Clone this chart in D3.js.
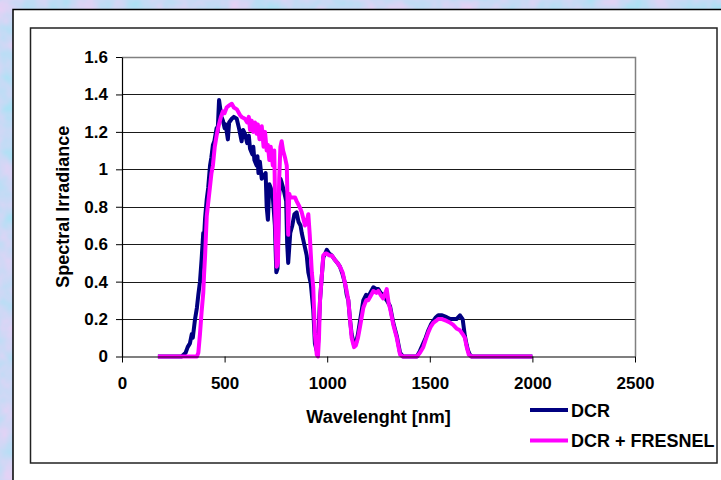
<!DOCTYPE html>
<html>
  <head>
    <meta charset="UTF-8">
    <title>spectral irradiance</title>
    <style>
      body { margin: 0; }
      svg text { font-family: "Liberation Sans", Arial, sans-serif; font-weight: bold; fill: #000; }
      .axis text { font-size: 17px; }
      .axis path, .axis line { stroke: #000; }
      .grid line { stroke: #1a1a1a; }
    </style>
    <script src="https://d3js.org/d3.v7.min.js"></script>
  </head>
  <body>
    <div class="graph1"></div>
    <script>
      // series: wavelength [nm] -> irradiance
      var dcrWavelength = [175, 250, 290, 300, 310, 320, 331, 340, 345, 356, 365, 372, 380, 388, 396, 400, 405, 413, 420, 429,
        435, 443, 450, 461, 466, 473, 478, 485, 492, 500, 505, 516, 522, 535, 545, 559, 570, 583, 590, 599,
        610, 618, 624, 635, 640, 645, 656, 660, 665, 672, 681, 690, 700, 705, 711, 718, 725, 735, 745, 752, 758, 765, 772,
        778, 790, 800, 805, 810, 815, 820, 830, 840, 851, 860, 870, 876, 882, 892, 900, 908, 920, 932, 940,
        949, 955, 965, 975, 981, 990, 998, 1010, 1022, 1035, 1050, 1062, 1075, 1087, 1095, 1103, 1111, 1119, 1131, 1140,
        1150, 1160, 1176, 1190, 1200, 1215, 1225, 1240, 1249, 1260, 1273, 1290, 1306, 1322, 1339, 1355, 1369, 1437, 1452, 1468,
        1480, 1493, 1505, 1517, 1530, 1541, 1560, 1582, 1600, 1613, 1630, 1647, 1660, 1671, 1680, 1687, 1695, 1704, 2000];
      var dcrIrradiance = [0, 0, 0, 0.01, 0.02, 0.05, 0.07, 0.12, 0.10, 0.20, 0.26, 0.33, 0.40, 0.52, 0.66, 0.64, 0.74, 0.84, 0.90, 1.02,
        1.06, 1.13, 1.15, 1.22, 1.20, 1.37, 1.33, 1.28, 1.26, 1.22, 1.24, 1.16, 1.25, 1.27, 1.28, 1.27, 1.22, 1.15, 1.21, 1.19,
        1.14, 1.18, 1.11, 1.08, 1.12, 1.05, 1.02, 1.07, 0.98, 1.04, 0.95, 0.96, 0.98, 0.80, 0.73, 0.92, 0.90, 0.85, 0.70, 0.45, 0.47, 0.85, 0.95,
        0.93, 0.88, 0.83, 0.60, 0.50, 0.58, 0.66, 0.70, 0.76, 0.77, 0.72, 0.70, 0.66, 0.63, 0.58, 0.54, 0.45, 0.39, 0.25, 0.07,
        0.03, 0.06, 0.30, 0.45, 0.53, 0.55, 0.57, 0.55, 0.54, 0.52, 0.50, 0.48, 0.44, 0.39, 0.33, 0.30, 0.20, 0.12, 0.06, 0.07,
        0.12, 0.19, 0.30, 0.33, 0.32, 0.35, 0.37, 0.36, 0.36, 0.34, 0.33, 0.30, 0.27, 0.18, 0.11, 0.02, 0, 0, 0.03, 0.07,
        0.10, 0.14, 0.17, 0.19, 0.21, 0.22, 0.22, 0.21, 0.20, 0.20, 0.20, 0.22, 0.20, 0.11, 0.06, 0.03, 0.01, 0, 0];

      var fresnelWavelength = [175, 300, 365, 372, 380, 388, 396, 400, 405, 413, 420, 429, 436, 443, 452, 461, 468, 475, 482, 492,
        500, 510, 520, 535, 545, 560, 575, 583, 599, 610, 618, 624, 632, 640, 648, 656, 662, 670, 681, 690, 697, 705, 711, 718,
        725, 735, 742, 748, 754, 760, 766, 772, 778, 785, 795, 803, 810, 815, 820, 835, 843, 851, 865, 876,
        892, 900, 908, 915, 925, 932, 940, 949, 955, 960, 965, 975, 981, 990, 998, 1010, 1022, 1035, 1050, 1062,
        1075, 1087, 1095, 1103, 1111, 1119, 1131, 1140, 1150, 1160, 1176, 1190, 1200, 1215, 1225, 1240, 1249, 1260, 1273, 1290,
        1300, 1306, 1322, 1339, 1355, 1369, 1437, 1452, 1468, 1480, 1493, 1505, 1517, 1530, 1541, 1560, 1582, 1600, 1613, 1630,
        1647, 1660, 1671, 1680, 1690, 1704, 2000];
      var fresnelIrradiance = [0, 0, 0, 0.02, 0.12, 0.24, 0.34, 0.44, 0.54, 0.75, 0.82, 0.91, 0.98, 1.02, 1.12, 1.18, 1.22, 1.25, 1.28, 1.31,
        1.30, 1.33, 1.34, 1.35, 1.33, 1.32, 1.29, 1.28, 1.27, 1.25, 1.28, 1.21, 1.26, 1.20, 1.25, 1.19, 1.24, 1.16, 1.23, 1.12, 1.20, 1.10, 1.13, 1.05,
        1.12, 1.02, 1.10, 0.70, 0.48, 0.50, 0.95, 1.12, 1.15, 1.10, 1.06, 1.02, 0.65, 0.87, 0.85, 0.85, 0.85, 0.83, 0.80, 0.77,
        0.70, 0.72, 0.76, 0.65, 0.45, 0.37, 0.12, 0.01, 0, 0.10, 0.30, 0.45, 0.54, 0.55, 0.55, 0.54, 0.54, 0.52, 0.50, 0.48,
        0.45, 0.39, 0.35, 0.30, 0.20, 0.10, 0.05, 0.06, 0.10, 0.16, 0.26, 0.30, 0.30, 0.33, 0.35, 0.34, 0.35, 0.33, 0.31, 0.36,
        0.28, 0.26, 0.17, 0.10, 0.01, 0, 0, 0.02, 0.05, 0.09, 0.13, 0.16, 0.18, 0.19, 0.20, 0.20, 0.19, 0.18, 0.17, 0.15,
        0.14, 0.12, 0.10, 0.05, 0.01, 0, 0];

      var xTicks = [0, 500, 1000, 1500, 2000, 2500];
      var yTicks = [0, 0.2, 0.4, 0.6, 0.8, 1, 1.2, 1.4, 1.6];
      var yTickLabels = ["0", "0.2", "0.4", "0.6", "0.8", "1", "1.2", "1.4", "1.6"];
      var seriesNames = ["DCR", "DCR + FRESNEL"];
      var seriesColors = ["#000080", "#ff00ff"];

      var width = 721, height = 480;
      var plot = {left: 122, right: 635, top: 57, bottom: 356.5};

      var svg = d3.select(".graph1").append("svg")
        .attr("width", width)
        .attr("height", height);

      // mottled slide background
      var defs = svg.append("defs");
      var filt = defs.append("filter").attr("id", "mottle")
        .attr("color-interpolation-filters", "sRGB")
        .attr("x", 0).attr("y", 0).attr("width", "100%").attr("height", "100%");
      filt.append("feTurbulence")
        .attr("type", "fractalNoise")
        .attr("baseFrequency", 0.04)
        .attr("numOctaves", 3)
        .attr("seed", 4);
      filt.append("feColorMatrix")
        .attr("type", "matrix")
        .attr("values", "0.35 0 0 0 0.62  -0.1 0 0 0 0.9  0 0 0 0 0.96  0 0 0 0 1");

      svg.append("rect")
        .attr("width", width).attr("height", height)
        .attr("fill", "#cfdcf3");
      svg.append("rect")
        .attr("width", width).attr("height", height)
        .attr("filter", "url(#mottle)");

      // white panels
      svg.append("rect")
        .attr("x", 13).attr("y", 9.5)
        .attr("width", 720).attr("height", 480)
        .attr("fill", "#fff").attr("stroke", "#000").attr("stroke-width", 1.5);
      svg.append("rect")
        .attr("x", 30.5).attr("y", 28)
        .attr("width", 686.5).attr("height", 435)
        .attr("fill", "#fff").attr("stroke", "#222").attr("stroke-width", 1.5);

      var xScale = d3.scaleLinear().domain([0, 2500]).range([plot.left, plot.right]);
      var yScale = d3.scaleLinear().domain([0, 1.6]).range([plot.bottom, plot.top]);

      // gridlines
      svg.append("g")
        .attr("class", "grid")
        .selectAll("line")
        .data(yTicks.slice(1, -1))
        .enter().append("line")
          .attr("x1", plot.left).attr("x2", plot.right)
          .attr("y1", function(d) { return Math.round(yScale(d)) + 0.5; })
          .attr("y2", function(d) { return Math.round(yScale(d)) + 0.5; });

      // plot area frame (top/right grey)
      svg.append("path")
        .attr("d", "M" + plot.left + "," + (plot.top + 0.5) + "H" + (plot.right + 0.5) + "V" + plot.bottom)
        .attr("fill", "none")
        .attr("stroke", "#808080")
        .attr("stroke-width", 1.5);

      // series
      var line = d3.line()
        .x(function(d) { return xScale(d[0]); })
        .y(function(d) { return yScale(d[1]); });

      var series = [
        d3.zip(dcrWavelength, dcrIrradiance),
        d3.zip(fresnelWavelength, fresnelIrradiance)
      ];

      svg.append("g").selectAll("path")
        .data(series)
        .enter().append("path")
          .attr("d", line)
          .attr("fill", "none")
          .attr("stroke", function(d, i) { return seriesColors[i]; })
          .attr("stroke-width", 4)
          .attr("stroke-linejoin", "round");

      // x-axis
      svg.append("g")
        .attr("class", "x axis")
        .attr("transform", "translate(0," + plot.bottom + ")")
        .call(d3.axisBottom(xScale).tickValues(xTicks).tickSize(6).tickPadding(14).tickSizeOuter(0)
          .tickFormat(d3.format("d")))
        .call(function(g) { g.select(".domain").attr("stroke-width", 1.2); });

      // y-axis
      svg.append("g")
        .attr("class", "y axis")
        .attr("transform", "translate(" + plot.left + ",0)")
        .call(d3.axisLeft(yScale).tickValues(yTicks).tickSize(6).tickPadding(8).tickSizeOuter(0)
          .tickFormat(function(d, i) { return yTickLabels[i]; }))
        .call(function(g) { g.select(".domain").attr("stroke-width", 1.2); });

      svg.selectAll(".axis text").style("font-family", "'Liberation Sans', Arial, sans-serif");

      // axis titles
      svg.append("text")
        .attr("x", (plot.left + plot.right) / 2)
        .attr("y", 422.5)
        .attr("text-anchor", "middle")
        .style("font-size", "18px")
        .text("Wavelenght [nm]");

      svg.append("text")
        .attr("transform", "translate(68.5," + (plot.top + plot.bottom) / 2 + ") rotate(-90)")
        .attr("text-anchor", "middle")
        .style("font-size", "18px")
        .text("Spectral Irradiance");

      // legend
      var legend = svg.append("g").selectAll("g")
        .data(seriesNames)
        .enter().append("g")
          .attr("transform", function(d, i) { return "translate(530," + (410 + i * 30.5) + ")"; });
      legend.append("line")
        .attr("x1", 0).attr("x2", 38)
        .attr("stroke", function(d, i) { return seriesColors[i]; })
        .attr("stroke-width", 4);
      legend.append("text")
        .attr("x", 41)
        .attr("y", 6.5)
        .style("font-size", "18px")
        .text(function(d) { return d; });
    </script>
  </body>
</html>
